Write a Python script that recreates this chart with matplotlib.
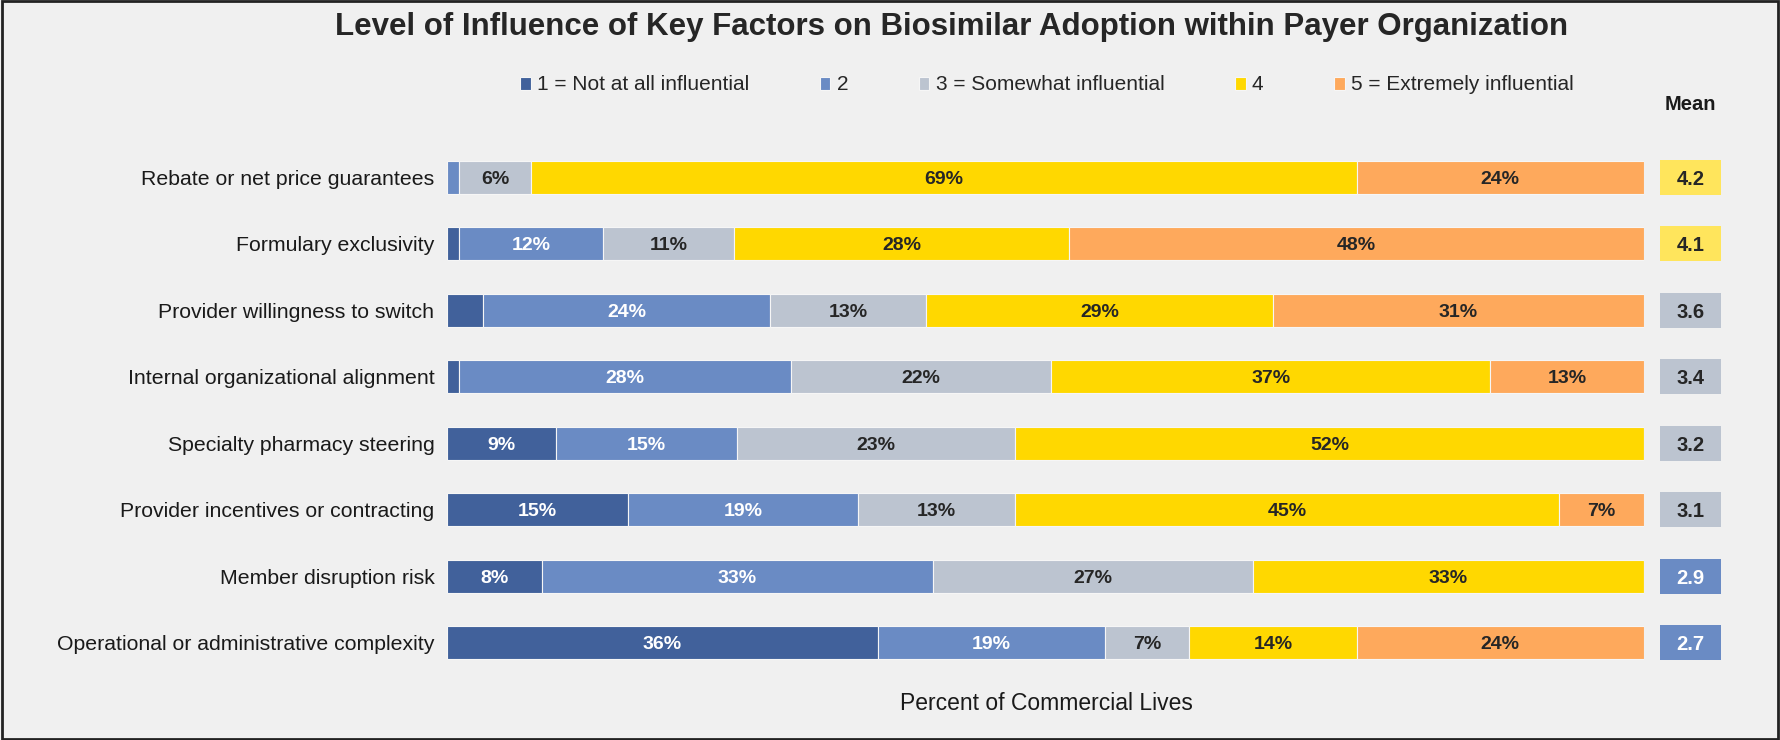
import matplotlib
matplotlib.use("Agg")
import matplotlib.pyplot as plt
from matplotlib.patches import Rectangle

plt.rcParams["font.family"] = ["Liberation Sans", "DejaVu Sans"]

# Data (percent of commercial lives, top row first)
factors = [
    "Rebate or net price guarantees",
    "Formulary exclusivity",
    "Provider willingness to switch",
    "Internal organizational alignment",
    "Specialty pharmacy steering",
    "Provider incentives or contracting",
    "Member disruption risk",
    "Operational or administrative complexity",
]
levels = [
    "1 = Not at all influential",
    "2",
    "3 = Somewhat influential",
    "4",
    "5 = Extremely influential",
]
not_at_all = [0, 1, 3, 1, 9, 15, 8, 36]
level_2 = [1, 12, 24, 28, 15, 19, 33, 19]
somewhat = [6, 11, 13, 22, 23, 13, 27, 7]
level_4 = [69, 28, 29, 37, 52, 45, 33, 14]
extremely = [24, 48, 31, 13, 0, 7, 0, 24]
means = [4.2, 4.1, 3.6, 3.4, 3.2, 3.1, 2.9, 2.7]

colors = ["#41619B", "#6A8BC4", "#BCC4D0", "#FFD800", "#FEA95C"]
text_colors = ["white", "white", "#262626", "#262626", "#262626"]
BG = "#F0F0F0"


def mean_style(m):
    # colour of the mean box depends on its band
    if m >= 4.0:
        return "#FFE55C", "#262626"
    if m >= 3.0:
        return colors[2], "#262626"
    return colors[1], "white"


W, H = 1780, 740
fig = plt.figure(figsize=(W / 100, H / 100), dpi=100, facecolor=BG)

ax_bottom = 1 - 676 / H
ax_height = 532 / H
ax = fig.add_axes([447 / W, ax_bottom, 1197 / W, ax_height])
ax.set_facecolor(BG)

series = [not_at_all, level_2, somewhat, level_4, extremely]
totals = [sum(vals) for vals in zip(*series)]
ypos = list(range(len(factors)))
left = [0.0] * len(factors)

handles = []
for k, vals in enumerate(series):
    widths = [v * 100 / t for v, t in zip(vals, totals)]
    bars = ax.barh(ypos, widths, left=left, height=0.5, color=colors[k],
                   edgecolor="#F6F6F6", linewidth=0.8, label=levels[k])
    handles.append(bars)
    for y, v, w, l in zip(ypos, vals, widths, left):
        if v >= 5:
            ax.text(l + w / 2, y, f"{v}%", ha="center", va="center_baseline",
                    fontsize=14, fontweight="bold", color=text_colors[k])
    left = [l + w for l, w in zip(left, widths)]

ax.set_xlim(0, 100)
ax.set_ylim(len(factors) - 0.5, -0.5)
ax.set_yticks(ypos)
ax.set_yticklabels(factors, fontsize=15.3, color="#1A1A1A")
ax.tick_params(axis="y", length=0, pad=9)
ax.set_xticks([])
for s in ax.spines.values():
    s.set_visible(False)

# Mean column
ax_m = fig.add_axes([1660 / W, ax_bottom, 61 / W, ax_height])
ax_m.set_facecolor(BG)
for y, m in zip(ypos, means):
    fc, tc = mean_style(m)
    ax_m.barh(y, 1, left=0, height=0.52, color=fc)
    ax_m.text(0.5, y, f"{m:.1f}", ha="center", va="center_baseline", fontsize=14.5,
              fontweight="bold", color=tc)
ax_m.set_xlim(0, 1)
ax_m.set_ylim(len(factors) - 0.5, -0.5)
ax_m.axis("off")
fig.text(1690 / W, 1 - 104 / H, "Mean", ha="center", va="center",
         fontsize=14.5, fontweight="bold", color="#1A1A1A")

fig.text(0.5 * (340 + 1564) / W, 1 - 27 / H,
         "Level of Influence of Key Factors on Biosimilar Adoption within Payer Organization",
         ha="center", va="center", fontsize=22.5, fontweight="bold", color="#262626")

fig.legend(handles=handles, labels=levels, loc="center",
           bbox_to_anchor=(1047 / W, 1 - 85 / H), ncol=5, frameon=False,
           fontsize=15, handlelength=0.5, handleheight=0.6, handletextpad=0.3,
           columnspacing=3.4, labelcolor="#262626")

fig.text(1046 / W, 1 - 704 / H, "Percent of Commercial Lives", ha="center",
         va="center", fontsize=16.5, color="#1A1A1A")

fig.patches.append(Rectangle((0.001, 0.002), 0.998, 0.996, transform=fig.transFigure,
                             fill=False, edgecolor="#222222", linewidth=2))

fig.savefig("out.png", dpi=100, facecolor=BG)
